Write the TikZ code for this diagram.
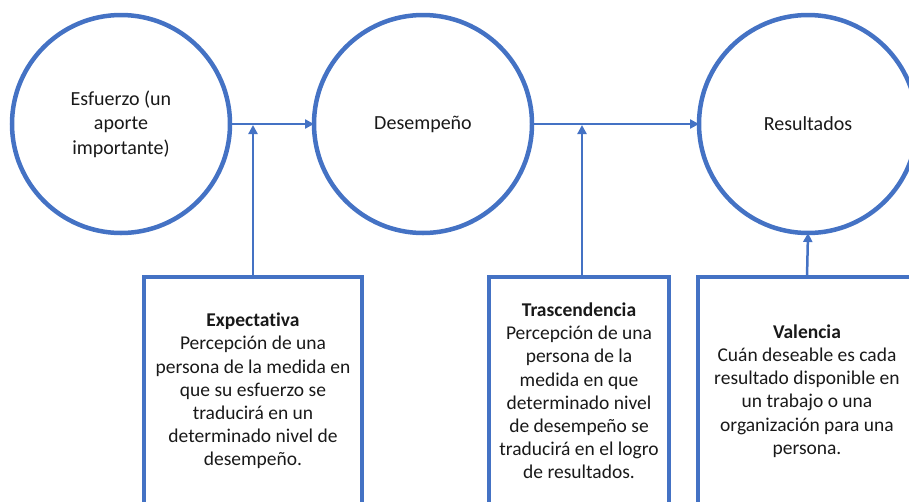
\documentclass[tikz,border=0pt]{standalone}
\usepackage{fontspec}
\setmainfont{Carlito}[Ligatures=NoCommon]
\usetikzlibrary{arrows.meta}
\definecolor{blu}{HTML}{4472C4}
\begin{document}
\begin{tikzpicture}[x=1pt,y=-1pt,
  circ/.style={circle, draw=blu, line width=4.5pt, minimum size=218pt, inner sep=0pt, outer sep=0pt, align=center, font=\fontsize{20}{24.5}\selectfont, text=black!90},
  boxnode/.style={rectangle, draw=blu, line width=4pt, inner sep=0pt, outer sep=0pt, align=center, minimum height=228pt, font=\fontsize{19.5}{23.2}\selectfont, text=black!90},
  arr/.style={draw=blu, line width=2.5pt, -{Triangle[length=9pt,width=9pt]}}]
\useasboundingbox (0,0) rectangle (909,501);
\node[circ] (c1) at (121,124) {Esfuerzo (un\\aporte\\importante)};
\node[circ] (c2) at (423,124) {Desempeño};
\node[circ] (c3) at (808,124) {Resultados};
\node[boxnode, minimum width=218pt] (b1) at (253,391) {\textbf{Expectativa}\\Percepción de una\\persona de la medida en\\que su esfuerzo se\\traducirá en un\\determinado nivel de\\desempeño.};
\node[boxnode, minimum width=180pt] (b2) at (579,391) {\textbf{Trascendencia}\\Percepción de una\\persona de la\\medida en que\\determinado nivel\\de desempeño se\\traducirá en el logro\\de resultados.};
\node[boxnode, minimum width=218pt] (b3) at (807,391) {\textbf{Valencia}\\Cuán deseable es cada\\resultado disponible en\\un trabajo o una\\organización para una\\persona.};
\coordinate (j1) at (253,125);
\coordinate (j2) at (582,125);
\draw[arr] (c1.east) -- (c2.west);
\draw[arr] (c2.east) -- (c3.west);
\draw[arr] (b1.north) -- (j1);
\draw[arr] (b2.north -| j2) -- (j2);
\draw[arr] (b3.north) -- (c3.south);
\end{tikzpicture}
\end{document}
